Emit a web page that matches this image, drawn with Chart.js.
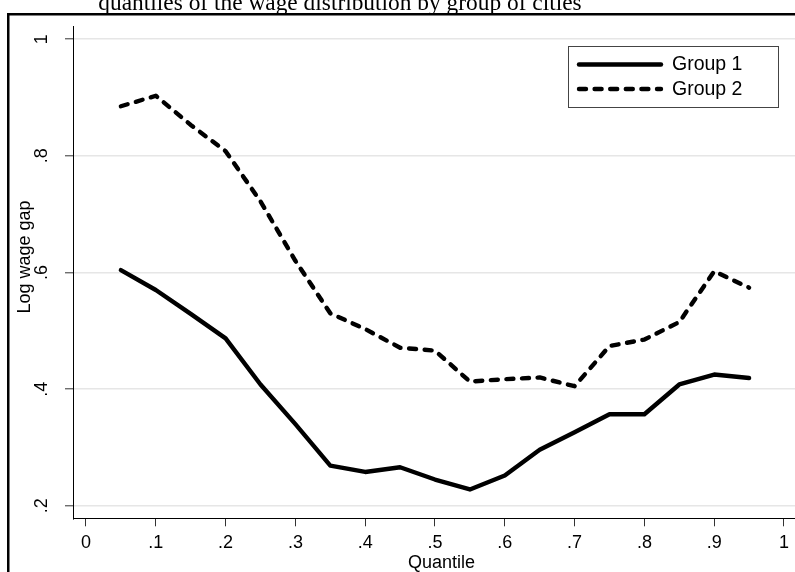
<!DOCTYPE html>
<html>
<head>
<meta charset="utf-8">
<script src="https://cdn.jsdelivr.net/npm/chart.js@4.4.1/dist/chart.umd.min.js"></script>
<style>
  html, body { margin: 0; padding: 0; background: #fff; overflow: hidden; }
  #wrap { position: absolute; left: 0; top: 0; width: 820px; height: 600px; }
</style>
</head>
<body>
<div id="wrap"><canvas id="c" width="820" height="600"></canvas></div>
<script>
// Quantile points and the log wage gap of each group of cities
const quantiles = [0.05, 0.10, 0.15, 0.20, 0.25, 0.30, 0.35, 0.40, 0.45, 0.50,
                   0.55, 0.60, 0.65, 0.70, 0.75, 0.80, 0.85, 0.90, 0.95];
const group1 = [0.604, 0.570, 0.529, 0.487, 0.408, 0.340, 0.269, 0.258, 0.266, 0.245,
                0.228, 0.252, 0.296, 0.326, 0.357, 0.357, 0.408, 0.425, 0.419];
const group2 = [0.885, 0.903, 0.853, 0.808, 0.722, 0.620, 0.530, 0.503, 0.471, 0.466,
                0.413, 0.417, 0.420, 0.405, 0.474, 0.485, 0.515, 0.602, 0.574];

const seriesNames = ['Group 1', 'Group 2'];

const xTickValues = [0, 0.1, 0.2, 0.3, 0.4, 0.5, 0.6, 0.7, 0.8, 0.9, 1];
const xTickLabels = ['0', '.1', '.2', '.3', '.4', '.5', '.6', '.7', '.8', '.9', '1'];
const yTickValues = [0.2, 0.4, 0.6, 0.8, 1];
const yTickLabels = ['.2', '.4', '.6', '.8', '1'];

const titleText = 'quantiles of the wage distribution by group of cities';
const xTitle = 'Quantile';
const yTitle = 'Log wage gap';

const SANS = '"Liberation Sans", Arial, sans-serif';
const SERIF = '"Liberation Serif", "Times New Roman", serif';

function points(values) {
  return quantiles.map((q, i) => ({ x: q, y: values[i] }));
}

// Outer frame of the graph region
const framePlugin = {
  id: 'frame',
  beforeDraw(chart) {
    const ctx = chart.ctx;
    ctx.save();
    ctx.strokeStyle = '#000';
    ctx.lineWidth = 2.5;
    ctx.strokeRect(8.25, 14.25, 900, 700);
    ctx.restore();
  }
};

// Headline above the frame, and the vertical axis title beside the tick labels
const textPlugin = {
  id: 'texts',
  afterDraw(chart) {
    const ctx = chart.ctx;
    ctx.save();
    ctx.fillStyle = '#000';
    ctx.font = '23.4px ' + SERIF;
    ctx.textAlign = 'center';
    ctx.textBaseline = 'alphabetic';
    ctx.fillText(titleText, 340, 9.5);

    ctx.translate(25, 257);
    ctx.rotate(-Math.PI / 2);
    ctx.font = '18px ' + SANS;
    ctx.textBaseline = 'middle';
    ctx.fillText(yTitle, 0, 0);
    ctx.restore();
  }
};

// Boxed legend in the upper right of the plot
const boxLegendPlugin = {
  id: 'boxLegend',
  afterDatasetsDraw(chart) {
    const ctx = chart.ctx;
    const bx = 568.5, by = 46.5, bw = 210, bh = 61;
    ctx.save();
    ctx.fillStyle = '#fff';
    ctx.fillRect(bx, by, bw, bh);
    ctx.strokeStyle = '#444';
    ctx.lineWidth = 1;
    ctx.strokeRect(bx, by, bw, bh);
    const rows = [64.5, 89];
    chart.data.datasets.forEach((ds, i) => {
      const y = rows[i];
      ctx.beginPath();
      ctx.strokeStyle = ds.borderColor;
      ctx.lineWidth = ds.borderWidth;
      ctx.lineCap = ds.borderCapStyle || 'butt';
      ctx.setLineDash(ds.borderDash || []);
      ctx.moveTo(579, y);
      ctx.lineTo(661, y);
      ctx.stroke();
      ctx.setLineDash([]);
      ctx.fillStyle = '#000';
      ctx.font = '19.5px ' + SANS;
      ctx.textAlign = 'left';
      ctx.textBaseline = 'middle';
      ctx.fillText(ds.label, 672, y + 0.5);
    });
    ctx.restore();
  }
};

const chart = new Chart(document.getElementById('c'), {
  type: 'line',
  data: {
    datasets: [
      {
        label: seriesNames[0],
        data: points(group1),
        borderColor: '#000',
        borderWidth: 4.4,
        borderCapStyle: 'round',
        borderJoinStyle: 'round',
        pointRadius: 0,
        tension: 0,
        fill: false
      },
      {
        label: seriesNames[1],
        data: points(group2),
        borderColor: '#000',
        borderWidth: 4.4,
        borderDash: [7, 8.6],
        borderCapStyle: 'round',
        borderJoinStyle: 'round',
        pointRadius: 0,
        tension: 0,
        fill: false
      }
    ]
  },
  options: {
    responsive: false,
    animation: false,
    devicePixelRatio: 1,
    layout: { padding: { left: 0, top: 22.7, right: 10, bottom: 21.7 } },
    plugins: {
      legend: { display: false },
      title: { display: false },
      tooltip: { enabled: false }
    },
    scales: {
      x: {
        type: 'linear',
        min: -0.01862,
        max: 1.03725,
        afterBuildTicks(scale) {
          scale.ticks = xTickValues.map(v => ({ value: v }));
        },
        afterFit(scale) { scale.height = 60; },
        ticks: {
          callback: (v, i) => xTickLabels[i],
          color: '#000',
          font: { family: SANS, size: 18 },
          padding: 6.4,
          maxRotation: 0,
          minRotation: 0,
          autoSkip: false
        },
        grid: {
          drawOnChartArea: false,
          drawTicks: true,
          tickLength: 8,
          tickColor: '#333',
          tickWidth: 1
        },
        border: { display: true, color: '#000', width: 1 },
        title: {
          display: true,
          text: xTitle,
          color: '#000',
          font: { family: SANS, size: 18 },
          padding: { top: 0, bottom: 4 }
        }
      },
      y: {
        type: 'linear',
        min: 0.17855,
        max: 1.0221,
        afterBuildTicks(scale) {
          scale.ticks = yTickValues.map(v => ({ value: v }));
        },
        afterFit(scale) { scale.width = 73; },
        ticks: {
          callback: (v, i) => yTickLabels[i],
          color: '#000',
          font: { family: SANS, size: 18 },
          padding: 15.5,
          minRotation: 90,
          maxRotation: 90,
          crossAlign: 'center',
          autoSkip: false
        },
        grid: {
          color: '#e6e6e6',
          lineWidth: 1.6,
          drawTicks: true,
          tickLength: 8,
          tickColor: '#333',
          tickWidth: 1
        },
        border: { display: true, color: '#000', width: 1 },
        title: { display: false }
      }
    }
  },
  plugins: [framePlugin, textPlugin, boxLegendPlugin]
});
</script>
</body>
</html>
